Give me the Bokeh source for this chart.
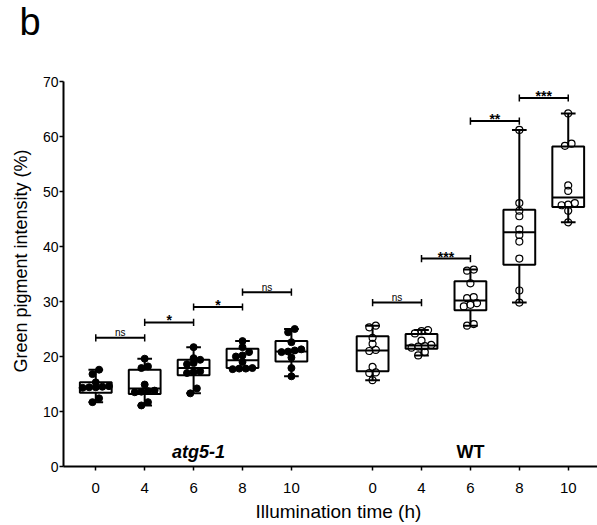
import numpy as np
from bokeh.plotting import figure
from bokeh.models import Range1d, FixedTicker, Label, CustomJSTickFormatter, Title
from bokeh.embed import file_html
from bokeh.resources import INLINE
from bokeh.core.properties import value

FONT = "Liberation Sans"

# ---------------- data ----------------
time_labels = ["0", "4", "6", "8", "10"]
group_names = ["atg5-1", "WT"]

# individual measurements (Green pigment intensity, %)
atg_0 = [17.6, 16.8, 15.3, 14.6, 14.5, 14.4, 14.4, 14.3, 12.4, 11.7]
atg_4 = [19.6, 18.2, 17.9, 14.9, 13.8, 13.7, 13.6, 13.5, 11.7, 11.1]
atg_6 = [21.7, 19.7, 19.4, 18.8, 18.6, 17.3, 17.2, 17.0, 14.2, 13.3]
atg_8 = [22.8, 21.7, 20.8, 20.2, 20.0, 19.0, 17.9, 17.8, 17.8, 17.7]
atg_10 = [25.0, 24.4, 22.6, 21.3, 21.1, 20.9, 20.8, 19.8, 17.9, 16.4]
wt_0 = [25.6, 25.3, 23.4, 22.3, 21.2, 21.0, 18.1, 17.1, 17.0, 15.7]
wt_4 = [24.8, 24.6, 24.2, 22.9, 22.1, 21.9, 21.8, 21.6, 20.8, 20.2]
wt_6 = [35.8, 35.6, 33.3, 30.8, 30.6, 29.7, 29.4, 29.1, 25.9, 25.6]
wt_8 = [61.2, 47.9, 46.5, 45.5, 43.1, 42.1, 40.9, 37.8, 32.0, 29.8]
wt_10 = [64.2, 58.7, 58.3, 51.1, 50.1, 47.9, 47.6, 47.5, 46.5, 44.4]

# box statistics
atg_min = [11.7, 11.1, 13.3, 17.7, 16.4]
atg_q1 = [13.4, 13.2, 16.6, 17.9, 19.1]
atg_med = [14.4, 14.2, 17.9, 19.3, 20.9]
atg_q3 = [15.3, 17.6, 19.4, 21.4, 22.8]
atg_max = [17.6, 19.6, 21.7, 22.8, 25.0]
wt_min = [15.7, 20.2, 25.6, 29.8, 44.4]
wt_q1 = [17.3, 21.4, 28.4, 36.7, 47.2]
wt_med = [21.1, 22.0, 30.2, 42.6, 48.9]
wt_q3 = [23.7, 24.1, 33.7, 46.7, 58.2]
wt_max = [25.6, 24.8, 35.8, 61.2, 64.2]

# significance brackets (between consecutive time points)
sig_group = ["atg5-1", "atg5-1", "atg5-1", "atg5-1", "WT", "WT", "WT", "WT"]
sig_from = [0, 1, 2, 3, 0, 1, 2, 3]
sig_y = [23.4, 26.2, 29.0, 31.7, 29.8, 37.8, 62.8, 67.0]
sig_text = ["ns", "*", "*", "ns", "ns", "***", "**", "***"]

# ---------------- layout helpers ----------------
group_start = {"atg5-1": 0.0, "WT": 5.66}
PX_X = 49.0   # px per x unit
PX_Y = 5.5    # px per y unit
BOX_W = 0.65
CAP_W = 0.30
PT = 7
FRAME_W = 597 - 62

def xs_of(g):
    return [group_start[g] + i for i in range(len(time_labels))]

def swarm(vals, center):
    order = np.argsort(vals)
    rows, cur = [], []
    start = None
    for idx in order:
        v = vals[idx]
        if start is None or (v - start) * PX_Y >= 5.0:
            if cur:
                rows.append(cur)
            cur = [idx]
            start = v
        else:
            cur.append(idx)
    if cur:
        rows.append(cur)
    xs = [0.0] * len(vals)
    for r in rows:
        n = len(r)
        for k, idx in enumerate(r):
            xs[idx] = center + (k - (n - 1) / 2) * 6.6 / PX_X
    return xs

p = figure(width=597, height=525, output_backend="svg", toolbar_location=None,
           x_range=Range1d(-0.66, -0.66 + FRAME_W / PX_X), y_range=Range1d(0, 70),
           min_border_left=62, min_border_right=0, min_border_top=81, min_border_bottom=59)
p.outline_line_color = None
p.grid.visible = False
p.background_fill_color = "white"

def draw_group(g, pts, mn, q1, md, q3, mx, filled):
    xs = xs_of(g)
    for i, x in enumerate(xs):
        p.segment(x0=[x, x], y0=[q3[i], mn[i]], x1=[x, x], y1=[mx[i], q1[i]],
                  line_color="black", line_width=2)
        p.segment(x0=[x - CAP_W / 2, x - CAP_W / 2], y0=[mx[i], mn[i]],
                  x1=[x + CAP_W / 2, x + CAP_W / 2], y1=[mx[i], mn[i]],
                  line_color="black", line_width=2)
        p.quad(left=[x - BOX_W / 2], right=[x + BOX_W / 2], bottom=[q1[i]], top=[q3[i]],
               fill_color=None, line_color="black", line_width=2)
        p.segment(x0=[x - BOX_W / 2], y0=[md[i]], x1=[x + BOX_W / 2], y1=[md[i]],
                  line_color="black", line_width=2)
        sx = swarm(pts[i], x)
        if filled:
            p.scatter(x=sx, y=pts[i], size=PT, marker="circle",
                      fill_color="black", line_color="black", line_width=1)
        else:
            p.scatter(x=sx, y=pts[i], size=PT, marker="circle",
                      fill_color=None, line_color="black", line_width=1.2)

draw_group("atg5-1", [atg_0, atg_4, atg_6, atg_8, atg_10],
           atg_min, atg_q1, atg_med, atg_q3, atg_max, True)
draw_group("WT", [wt_0, wt_4, wt_6, wt_8, wt_10],
           wt_min, wt_q1, wt_med, wt_q3, wt_max, False)

# significance brackets
bx0, bx1, by, bm = [], [], [], []
for g, i, y in zip(sig_group, sig_from, sig_y):
    xs = xs_of(g)
    bx0.append(xs[i]); bx1.append(xs[i + 1]); by.append(y)
    bm.append((xs[i] + xs[i + 1]) / 2)
p.segment(x0=bx0, y0=by, x1=bx1, y1=by, line_color="black", line_width=2)
tick_h = 0.65
p.segment(x0=bx0, y0=[y - tick_h for y in by], x1=bx0, y1=[y + tick_h for y in by],
          line_color="black", line_width=1.5)
p.segment(x0=bx1, y0=[y - tick_h for y in by], x1=bx1, y1=[y + tick_h for y in by],
          line_color="black", line_width=1.5)
ns_idx = [k for k, t in enumerate(sig_text) if t == "ns"]
st_idx = [k for k, t in enumerate(sig_text) if t != "ns"]
p.text(x=[bm[k] for k in ns_idx], y=[by[k] for k in ns_idx], text=[sig_text[k] for k in ns_idx],
       text_font=value(FONT), text_font_size="10px", text_align="center",
       text_baseline="alphabetic", y_offset=-5, text_color="black")
p.text(x=[bm[k] for k in st_idx], y=[by[k] for k in st_idx], text=[sig_text[k] for k in st_idx],
       text_font=value(FONT), text_font_size="14px", text_font_style="bold",
       text_align="center", text_baseline="alphabetic", y_offset=-2, text_color="black")

# group labels
p.add_layout(Label(x=xs_of("atg5-1")[2] + 0.1, y=2.6, text=group_names[0], text_font=FONT,
                   text_font_size="18px", text_font_style="bold italic", text_align="center",
                   text_baseline="alphabetic", text_color="black"))
p.add_layout(Label(x=xs_of("WT")[2], y=2.6, text=group_names[1], text_font=FONT,
                   text_font_size="18px", text_font_style="bold", text_align="center",
                   text_baseline="alphabetic", text_color="black"))

# axes
all_x = xs_of("atg5-1") + xs_of("WT")
p.xaxis.ticker = FixedTicker(ticks=all_x)
p.xaxis.formatter = CustomJSTickFormatter(args=dict(pos=all_x, lab=time_labels * 2), code="""
let best = 0, bd = 1e9;
for (let i = 0; i < pos.length; i++) { const d = Math.abs(pos[i] - tick); if (d < bd) { bd = d; best = i; } }
return lab[best];
""")
p.yaxis.ticker = FixedTicker(ticks=list(range(0, 71, 10)))
for ax in (p.xaxis[0], p.yaxis[0]):
    ax.axis_line_width = 2
    ax.axis_line_color = "black"
    ax.major_tick_line_color = "black"
    ax.major_tick_line_width = 1.5
    ax.major_tick_out = 4
    ax.major_tick_in = 0
    ax.minor_tick_line_color = None
    ax.major_label_text_font = FONT
    ax.major_label_text_color = "black"
p.xaxis.major_label_text_font_size = "15px"
p.xaxis.major_label_standoff = 12
p.yaxis.major_label_text_font_size = "14px"
p.yaxis.major_label_standoff = 1

# axis titles and panel letter (as side titles)
p.add_layout(Title(text="Illumination time (h)", align="left", offset=192,
                   text_font=FONT, text_font_size="19px", text_font_style="normal",
                   text_color="black", standoff=6), "below")
p.add_layout(Title(text="Green pigment intensity (%)", align="left", offset=94,
                   text_font=FONT, text_font_size="18px", text_font_style="normal",
                   text_color="black", standoff=17), "left")
# blank spacer panel between the frame and the panel letter
p.add_layout(Title(text="\u00a0", align="left", text_font=FONT, text_font_size="10px",
                   text_color="white", standoff=24), "above")
p.add_layout(Title(text="b", align="left", offset=-44, vertical_align="top",
                   text_font=FONT, text_font_size="38px", text_font_style="normal",
                   text_color="black", standoff=0), "above")

open("out.html", "w").write(file_html(p, INLINE))
